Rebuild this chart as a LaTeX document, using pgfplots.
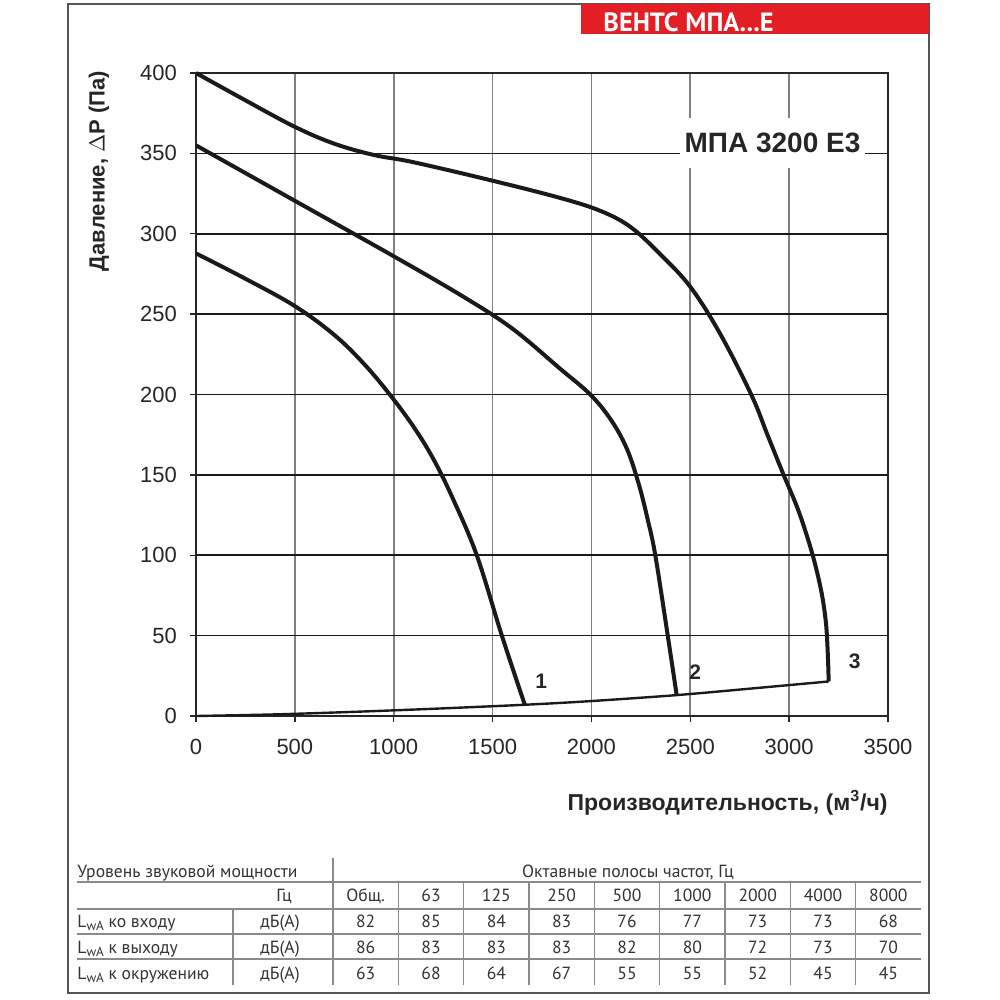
\documentclass[border=0pt]{standalone}
\usepackage{fontspec}
\setmainfont{Liberation Sans}
\newfontfamily\ptsans{PT Sans}
\usepackage{pgfplots}
\pgfplotsset{compat=1.18}
\definecolor{vred}{HTML}{E31E24}
\definecolor{tgray}{HTML}{333333}
\definecolor{lgray}{HTML}{8A8A8A}
\definecolor{frame}{HTML}{555555}
\definecolor{curve}{HTML}{1A1A1A}
\newcommand{\Lwa}{L\raisebox{-0.35ex}{\fontsize{6.6}{7}\selectfont wA}}
\begin{document}
\begin{tikzpicture}
\useasboundingbox (0,0) rectangle (500pt,-500pt);
\begin{axis}[
  at={(98pt,-358pt)}, anchor=south west,
  scale only axis, width=346pt, height=321.5pt,
  xmin=0, xmax=3500, ymin=0, ymax=400,
  xtick={0,500,...,3500}, ytick={0,50,...,400},
  xmajorgrids, ymajorgrids,
  x grid style={color=black!50, line width=0.8pt},
  y grid style={color=black!90, line width=0.8pt},
  axis line style={color=black!85, line width=0.8pt},
  tick align=outside, tickpos=left, major tick length=3pt,
  tick style={color=black!85, line width=0.7pt},
  ticklabel style={font=\fontsize{11}{13}\selectfont, text=black!85},
  /pgf/number format/assume math mode=true,
  /pgf/number format/set thousands separator={},
  xticklabel style={yshift=-5pt},
  yticklabel style={xshift=-3pt},
  clip=false,
]
% system curve
\addplot[curve, line width=1.2pt, smooth, tension=0.5] coordinates {
 (0,0) (400,1) (800,2.6) (1200,4.5) (1663,7) (2000,9.3) (2431,13) (2800,17) (3200,21.5)};
% curve 1
\addplot[curve, line width=2pt, smooth, tension=0.6, line join=round] coordinates {
 (0,287.8) (250,272) (500,255) (700,237) (850,219) (980,200) (1100,180) (1200,160)
 (1300,135) (1420,100) (1547,50) (1663,7)};
% curve 2
\addplot[curve, line width=2pt, smooth, tension=0.6, line join=round] coordinates {
 (0,355) (500,320.5) (1000,286) (1350,261) (1600,241) (1842,216) (1994,200) (2100,184)
 (2180,166) (2240,144) (2285,122) (2323,100) (2386,50) (2431,13)};
% curve 3
\addplot[curve, line width=2pt, smooth, tension=0.6, line join=round] coordinates {
 (0,400) (250,383) (500,366.5) (700,356) (900,349) (1100,344.5) (1500,333)
 (1850,322) (2050,314) (2200,304) (2350,287) (2500,267) (2650,238) (2808,200)
 (2890,175) (2972,150) (3040,130) (3090,112) (3130,95) (3165,76) (3186,58) (3195,40) (3200,21.5)};
\node[font=\bfseries\fontsize{10.5}{12}\selectfont, text=black!85] at (axis cs:1746,21.3) {1};
\node[font=\bfseries\fontsize{10.5}{12}\selectfont, text=black!85] at (axis cs:2525,27.4) {2};
\node[font=\bfseries\fontsize{10.5}{12}\selectfont, text=black!85] at (axis cs:3331,33.8) {3};
\end{axis}
\begin{scope}[x=0.5pt, y=-0.5pt]
  % frame and header
  \draw[frame, line width=0.8pt] (68,4) rectangle (929,993);
  \fill[vred] (581,4) rectangle (929.4,34);
  \node[anchor=west, inner sep=0pt, text=white, font=\ptsans\bfseries\fontsize{13.2}{15}\selectfont] at (603,22) {ВЕНТС МПА...Е};
  % model label
  \fill[white] (680,118) rectangle (865,168);
  \node[font=\bfseries\fontsize{14}{16}\selectfont, text=black!85, inner sep=0pt] at (772.5,143) {МПА 3200 Е3};
  % axis labels
  \node[rotate=90, inner sep=0pt, font=\bfseries\fontsize{11}{13}\selectfont, text=black!85] at (99,171) {Давление, $\Delta$P (Па)};
  \node[anchor=east, inner sep=0pt, font=\bfseries\fontsize{11.5}{13}\selectfont, text=black!85] at (888,803) {Производительность, (м\textsuperscript{3}/ч)};
  % table lines
  \begin{scope}[lgray, line width=0.75pt]
    \draw (77,882) -- (921,882);
    \draw (77,909) -- (921,909);
    \draw (77,934) -- (921,934);
    \draw (77,959) -- (921,959);
    \draw (333,858) -- (333,985);
    \draw (233,909) -- (233,985);
    \foreach \k in {1,...,8} { \draw ({333+65.33*\k},882) -- ({333+65.33*\k},985); }
  \end{scope}
  \begin{scope}[every node/.style={inner sep=0pt, text=tgray, font=\ptsans\fontsize{8.8}{10}\selectfont}]
    \node[anchor=base west] at (77,877) {Уровень звуковой мощности};
    \node[anchor=base] at (628,877) {Октавные полосы частот, Гц};
    \node[anchor=base] at (284,901) {Гц};
    \node[anchor=base west] at (77,927) {\Lwa{} ко входу};
    \node[anchor=base west] at (77,953) {\Lwa{} к выходу};
    \node[anchor=base west] at (77,979) {\Lwa{} к окружению};
    \node[anchor=base] at (280,927) {дБ(А)};
    \node[anchor=base] at (280,953) {дБ(А)};
    \node[anchor=base] at (280,979) {дБ(А)};
    \foreach \t [count=\i from 0] in {Общ.,63,125,250,500,1000,2000,4000,8000}
      \node[anchor=base] at ({365.7+65.33*\i},901) {\t};
    \foreach \t [count=\i from 0] in {82,85,84,83,76,77,73,73,68}
      \node[anchor=base] at ({365.7+65.33*\i},927) {\t};
    \foreach \t [count=\i from 0] in {86,83,83,83,82,80,72,73,70}
      \node[anchor=base] at ({365.7+65.33*\i},953) {\t};
    \foreach \t [count=\i from 0] in {63,68,64,67,55,55,52,45,45}
      \node[anchor=base] at ({365.7+65.33*\i},979) {\t};
  \end{scope}
\end{scope}
\end{tikzpicture}
\end{document}
